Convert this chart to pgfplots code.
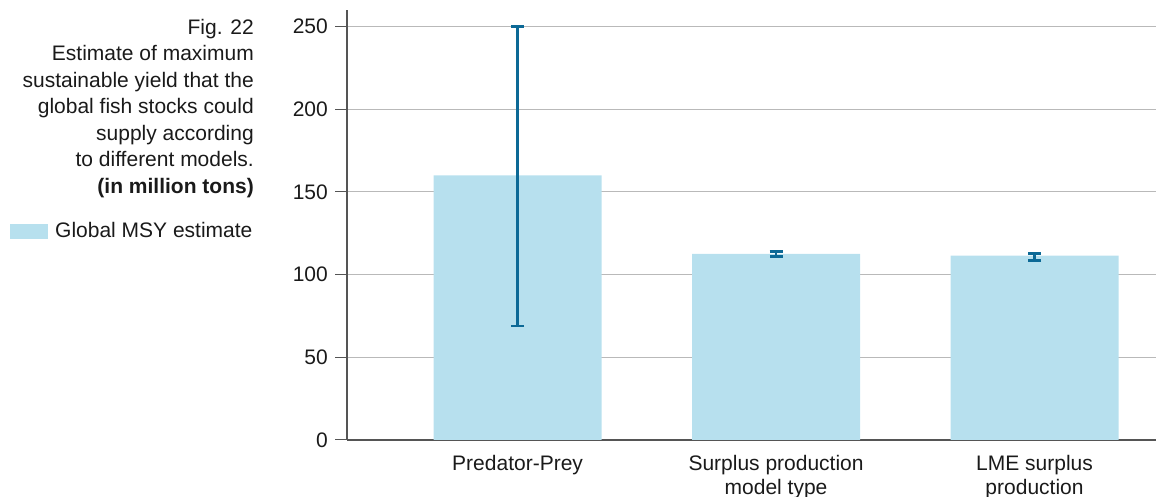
\documentclass[border=0pt]{standalone}
\usepackage{pgfplots}
\pgfplotsset{compat=1.18}
\usepackage{fontspec}
\setmainfont{Liberation Sans}
\definecolor{barblue}{RGB}{183,224,238}
\definecolor{errblue}{RGB}{12,105,150}
\definecolor{gridgray}{RGB}{185,185,185}
\definecolor{axisgray}{RGB}{85,85,85}
\definecolor{txt}{RGB}{26,26,26}
\begin{document}
\begin{tikzpicture}[x=1pt,y=1pt]
\useasboundingbox (0,0) rectangle (1156,497);
\node[anchor=north east, inner sep=0pt, align=right, text=txt,
  font=\fontsize{21}{26.5}\selectfont] at (254,478)
  {Fig. 22\\Estimate of maximum\\sustainable yield that the\\global fish stocks could\\supply according\\to different models.\\\textbf{(in million tons)}};
\begin{axis}[
  at={(347pt,57pt)}, anchor=south west,
  scale only axis, width=809pt, height=430pt,
  ybar, bar width=168pt,
  xmin=-0.66, xmax=2.47, ymin=0, ymax=260,
  axis x line*=bottom, axis y line*=left,
  axis line style={-, draw=axisgray, line width=1.3pt},
  xtick={0,1,2},
  xticklabels={Predator-Prey, {Surplus production\\model type}, {LME surplus\\production}},
  ytick={0,50,100,150,200,250},
  xtick style={draw=none},
  ytick style={draw=axisgray, line width=1pt},
  tick align=outside, major tick length=12pt,
  ymajorgrids, grid style={draw=gridgray, line width=1pt},
  /pgf/number format/assume math mode=true,
  tick label style={font=\fontsize{21}{24}\selectfont, text=txt},
  xticklabel style={align=center, anchor=north, inner sep=0pt, yshift=-3pt},
  yticklabel style={anchor=east, inner sep=0pt, xshift=-7pt},
  legend style={at={(axis description cs:-0.4166,0.486)}, anchor=west,
    draw=none, fill=none, inner sep=0pt,
    font=\fontsize{21}{23}\selectfont, text=txt,
    nodes={inner sep=3pt},
    /tikz/every odd column/.append style={column sep=4pt}},
  legend cell align=left,
]
\addplot[fill=barblue, draw=none,
  legend image code/.code={\fill[barblue] (0pt,-7.5pt) rectangle (38pt,7.5pt);},
  error bars/.cd, y dir=both, y explicit,
  error bar style={line width=2.5pt, draw=errblue},
  error mark options={line width=2.5pt, draw=errblue, mark size=6.5pt, rotate=90}]
coordinates {
 (0,160) += (0,90) -= (0,91)
 (1,112.5) += (0,1.6) -= (0,1.7)
 (2,111.5) += (0,1.3) -= (0,3)
};
\addlegendentry{Global MSY estimate}
\end{axis}
\end{tikzpicture}
\end{document}
